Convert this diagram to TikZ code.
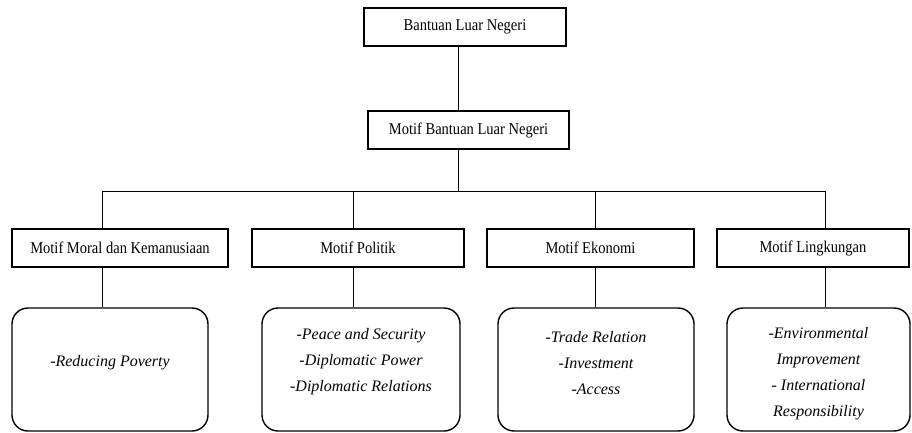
\documentclass[tikz,border=0pt]{standalone}
\usepackage{fontspec}
\setmainfont{Liberation Serif}
\newfontfamily\judulfont[FakeStretch=0.88]{Liberation Serif}
\begin{document}
\begin{tikzpicture}[x=1pt,y=-1pt,
    judul/.style={draw,line width=1.6pt,minimum height=38pt,inner sep=0pt,font=\judulfont\fontsize{16.5}{18}\selectfont},
    isi/.style={draw,line width=1.4pt,rounded corners=16pt,minimum height=123pt,inner sep=0pt},
    isiteks/.style={align=center,inner sep=0pt,font=\fontsize{16}{26}\selectfont\itshape},
    garis/.style={line width=0.8pt}]
  \useasboundingbox (0,0) rectangle (912,433);

  \node[judul,minimum width=202pt] (bantuan) at (465,27) {Bantuan Luar Negeri};
  \node[judul,minimum width=201pt] (motif) at (468.5,130) {Motif Bantuan Luar Negeri};

  \node[judul,minimum width=216pt] (moral) at (120,248) {Motif Moral dan Kemanusiaan};
  \node[judul,minimum width=212pt] (politik) at (358,248) {Motif Politik};
  \node[judul,minimum width=207pt] (ekonomi) at (590.5,248) {Motif Ekonomi};
  \node[judul,minimum width=192pt] (lingkungan) at (813,248) {Motif Lingkungan};

  \node[isi,minimum width=196pt] (isimoral) at (110,369.5) {};
  \node[isi,minimum width=198pt] (isipolitik) at (361,369.5) {};
  \node[isi,minimum width=196pt] (isiekonomi) at (596,369.5) {};
  \node[isi,minimum width=183pt] (isilingkungan) at (818.5,369.5) {};

  \node[isiteks] (tksmoral) at ([yshift=7pt]isimoral.center) {-Reducing Poverty};
  \node[isiteks] (tkspolitik) at ([yshift=8pt]isipolitik.center) {-Peace and Security\\-Diplomatic Power\\-Diplomatic Relations};
  \node[isiteks] (tksekonomi) at ([yshift=6pt]isiekonomi.center) {-Trade Relation\\-Investment\\-Access};
  \node[isiteks] (tkslingkungan) at ([yshift=-4pt]isilingkungan.center) {-Environmental\\Improvement\\- International\\Responsibility};

  % garis penghubung
  \coordinate (cabang) at (458,191);
  \draw[garis] (bantuan.south -| cabang) -- (motif.north -| cabang);
  \draw[garis] (motif.south -| cabang) -- (cabang);
  \foreach \nama/\px in {moral/102,politik/353,ekonomi/595,lingkungan/825} {
    \coordinate (t\nama) at (\px,191);
    \draw[garis] (t\nama) -- (t\nama |- \nama.north);
    \draw[garis] (t\nama |- \nama.south) -- (t\nama |- isi\nama.north);
  }
  \draw[garis] (tmoral) -- (tlingkungan);
\end{tikzpicture}
\end{document}
